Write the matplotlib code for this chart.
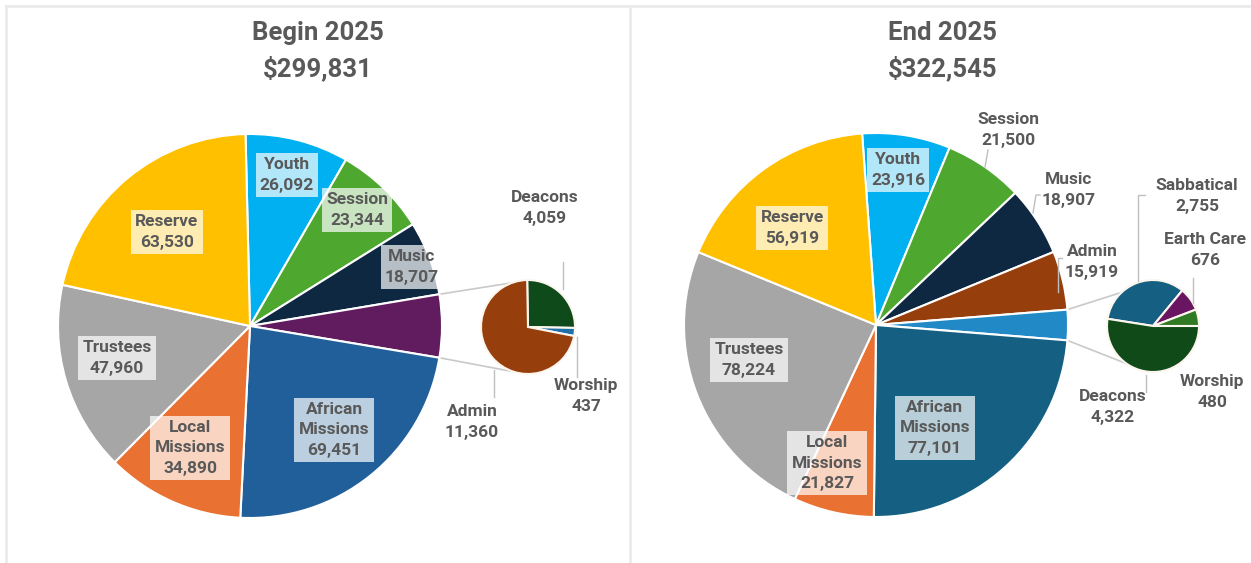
import matplotlib
matplotlib.use("Agg")
import matplotlib.pyplot as plt
import numpy as np

# ---------------- data ----------------
left_main_labels = ["Youth", "Session", "Music", "Other", "African\nMissions", "Local\nMissions", "Trustees", "Reserve"]
left_main_vals = [26092, 23344, 18707, None, 69451, 34890, 47960, 63530]
left_sec_labels = ["Deacons", "Worship", "Admin"]
left_sec_vals = [4059, 437, 11360]
left_title = ["Begin 2025", "$299,831"]

right_main_labels = ["Youth", "Session", "Music", "Admin", "Other", "African\nMissions", "Local\nMissions", "Trustees", "Reserve"]
right_main_vals = [23916, 21500, 18907, 15919, None, 77101, 21827, 78224, 56919]
right_sec_labels = ["Sabbatical", "Earth Care", "Worship", "Deacons"]
right_sec_vals = [2755, 676, 480, 4322]
right_title = ["End 2025", "$322,545"]

# ---------------- style ----------------
left_main_colors = ["#00b0f0", "#4ea72e", "#0e2841", "#601c5e", "#215f9a", "#e97132", "#a6a6a6", "#ffc000"]
left_sec_colors = ["#0f4a1a", "#1f6fa8", "#973f0c"]
right_main_colors = ["#00b0f0", "#4ea72e", "#0e2841", "#973f0c", "#2089c6", "#156082", "#e97132", "#a6a6a6", "#ffc000"]
right_sec_colors = ["#156082", "#6a1561", "#2f7a23", "#0f4a18"]

TXT = "#595959"
FONT = ["Roboto", "DejaVu Sans"]
plt.rcParams['font.family'] = FONT
LFS = 12.5

W, H = 1251, 563
fig = plt.figure(figsize=(W / 100, H / 100), dpi=100)
ax = fig.add_axes([0, 0, 1, 1])
ax.set_xlim(0, W)
ax.set_ylim(0, H)
ax.axis("off")


def Y(y):
    return H - y


def fmt(v):
    return f"{v:,}"


def draw_panel(main_labels, main_vals, main_colors, sec_labels, sec_vals, sec_colors,
               mc, mr, sc, sr, sec_start, conn_angles, inside_pos, outside_pos, leaders, title, title_x):
    other_val = sum(sec_vals)
    vals = [other_val if v is None else v for v in main_vals]
    total = sum(vals)
    oi = main_vals.index(None)
    c = sum(vals[:oi]) / total * 360
    w = vals[oi] / total * 360
    start = c + w / 2
    ax.pie(vals, colors=main_colors, startangle=start, counterclock=False,
           center=(mc[0], Y(mc[1])), radius=mr, frame=True,
           wedgeprops=dict(edgecolor="white", linewidth=1.5))
    ax.pie(sec_vals, colors=sec_colors, startangle=sec_start, counterclock=False,
           center=(sc[0], Y(sc[1])), radius=sr, frame=True,
           wedgeprops=dict(edgecolor="#fdf6ee", linewidth=1.5))
    # connector lines
    a_top = np.deg2rad(start - c)
    a_bot = np.deg2rad(start - c - w)
    for a_m, a_s in [(a_top, np.deg2rad(conn_angles[0])), (a_bot, np.deg2rad(conn_angles[1]))]:
        x0 = mc[0] + mr * np.cos(a_m)
        y0 = Y(mc[1]) + mr * np.sin(a_m)
        x1 = sc[0] + sr * np.cos(a_s)
        y1 = Y(sc[1]) + sr * np.sin(a_s)
        ax.plot([x0, x1], [y0, y1], color="#c9c9c9", lw=1.2, zorder=0.5)
    # inside labels
    for lab, v, (x, y) in zip(main_labels, vals, inside_pos):
        if lab == "Other" or (x is None):
            continue
        ax.text(x, Y(y), f"{lab}\n{fmt(v)}", ha="center", va="center", fontsize=LFS,
                fontweight="bold", color=TXT, linespacing=1.45, zorder=5,
                bbox=dict(boxstyle="square,pad=0.25", fc="white", ec="none", alpha=0.7))
    # outside labels (main or secondary)
    for lab, v, (x, y) in outside_pos:
        ax.text(x, Y(y), f"{lab}\n{fmt(v)}", ha="center", va="center", fontsize=LFS,
                fontweight="bold", color=TXT, linespacing=1.45, zorder=5)
    for seg in leaders:
        xs = [p[0] for p in seg]
        ys = [Y(p[1]) for p in seg]
        ax.plot(xs, ys, color="#bfbfbf", lw=1.0, zorder=4)
    ax.text(title_x, Y(33), title[0], ha="center", va="center", fontsize=18.5,
            fontweight="bold", color=TXT)
    ax.text(title_x, Y(68), title[1], ha="center", va="center", fontsize=18.5,
            fontweight="bold", color=TXT)


# left panel
left_inside = [(287, 175), (357, 210), (412, 267), (None, None), (334, 430), (190, 448), (117, 358), (167, 232)]
left_outside = [("Deacons", 4059, (545, 208)), ("Worship", 437, (586, 396)), ("Admin", 11360, (472, 422))]
left_leaders = [[(563, 262), (563, 289)], [(577, 337), (577, 377)], [(494, 370), (494, 397)]]
draw_panel(left_main_labels, left_main_vals, left_main_colors, left_sec_labels, left_sec_vals,
           left_sec_colors, (250, 326), 192, (528, 327), 47, 91, (110, -108),
           left_inside, left_outside, left_leaders, left_title, 318)

# right panel
right_inside = [(898, 170), (None, None), (None, None), (None, None), (None, None),
                (935, 428), (827, 463), (749, 360), (792, 228)]
right_outside = [("Session", 21500, (1008, 130)), ("Music", 18907, (1069, 190)),
                 ("Admin", 15919, (1092, 262)),
                 ("Sabbatical", 2755, (1197, 196)), ("Earth Care", 676, (1205, 250)),
                 ("Worship", 480, (1212, 392)), ("Deacons", 4322, (1113, 407))]
right_leaders = [[(985, 167), (988, 150)], [(1033, 213), (1036, 195), (1040, 195)],
                 [(1058, 292), (1058, 258), (1062, 258)],
                 [(1145, 195), (1138, 195), (1138, 281)], [(1193, 278), (1193, 303)],
                 [(1146, 375), (1146, 392)]]
draw_panel(right_main_labels, right_main_vals, right_main_colors, right_sec_labels, right_sec_vals,
           right_sec_colors, (876, 325), 192, (1153, 326), 46, 171, (133, -125),
           right_inside, right_outside, right_leaders, right_title, 943)

# panel borders
ax.plot([6, W], [Y(6), Y(6)], color="#ebebeb", lw=2, zorder=0)
ax.plot([6, 6], [Y(6), 0], color="#ebebeb", lw=2, zorder=0)
ax.plot([630, 630], [Y(6), 0], color="#ebebeb", lw=2, zorder=0)

ax.set_xlim(0, W)
ax.set_ylim(0, H)
fig.savefig("out.png", dpi=100, facecolor="white")
